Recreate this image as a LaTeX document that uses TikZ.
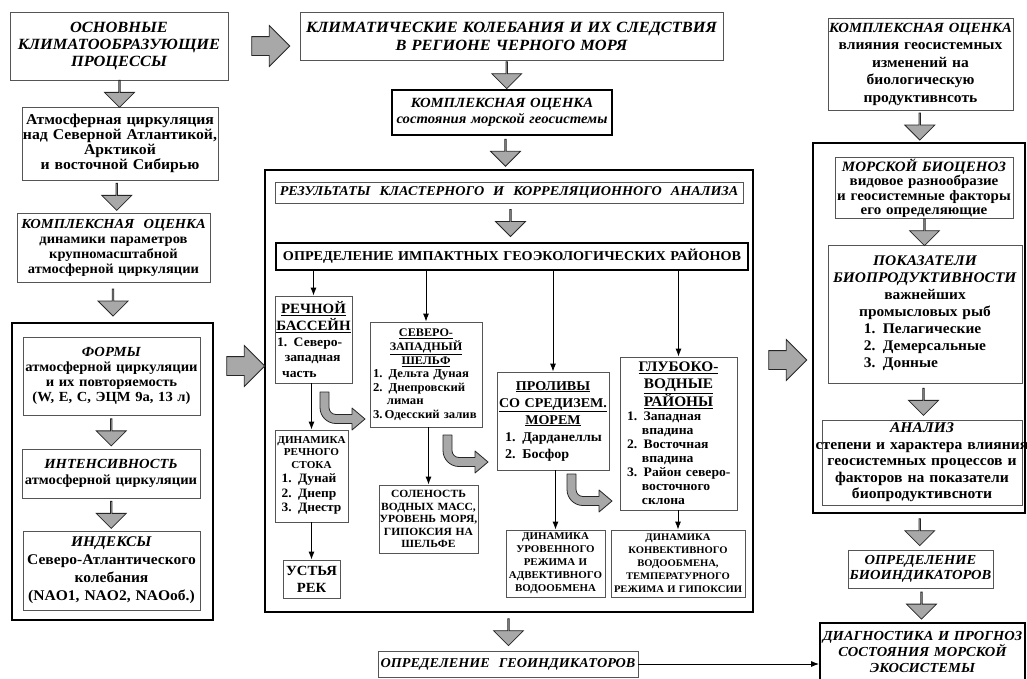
\documentclass[tikz,border=0pt]{standalone}
\usepackage{fontspec}
\setmainfont{Liberation Serif}[FakeStretch=1.05]
\usetikzlibrary{shapes.arrows, arrows.meta, calc}

\definecolor{arrowgray}{RGB}{168,168,168}
\definecolor{boxline}{RGB}{85,85,85}
\newcommand{\fs}[2]{\fontsize{#1}{#2}\selectfont}

\tikzset{
  box/.style={draw=boxline, line width=0.8pt, fill=white, inner ysep=1pt, align=center},
  heavy/.style={draw=black, line width=2pt},
  % box of given size; lines are never wrapped (wide text box, negative sep)
  sz/.code 2 args={\pgfmathsetmacro\bw{#1+40}%
    \edef\tmp{\noexpand\tikzset{minimum width=#1pt, minimum height=#2pt, text width=\bw pt, inner xsep=-20pt}}\tmp},
  fatdown/.style={single arrow, draw=black!85, fill=arrowgray, line width=0.8pt, shape border rotate=270,
    inner xsep=0pt, inner ysep=7pt, single arrow head extend=8pt, minimum width=30pt, minimum height=27pt},
  fatright/.style={single arrow, draw=black!85, fill=arrowgray, line width=0.8pt,
    inner xsep=0pt, inner ysep=9pt, single arrow head extend=11pt, minimum width=40pt, minimum height=38pt},
  thinarrow/.style={line width=0.9pt, -{Latex[length=8pt,width=6pt]}},
  bendarrow/.pic={\filldraw[fill=arrowgray, draw=black!85, line width=0.8pt, line join=round]
    (0,0) -- (0,-15.5) arc[start angle=180, end angle=270, radius=16] -- (32,-31.5) -- (32,-38)
    -- (45,-27) -- (32,-16) -- (32,-22.5) -- (16,-22.5) arc[start angle=270, end angle=180, radius=7]
    -- (9,0) -- cycle;},
}

\begin{document}
\begin{tikzpicture}[x=1pt, y=1pt]
\useasboundingbox (0,0) rectangle (1027,-678);

% left column
\node[box, sz={218}{68}, font=\bfseries\itshape\fs{15.6}{17}] (osn) at (119,-46)
  {ОСНОВНЫЕ\\КЛИМАТООБРАЗУЮЩИЕ\\ПРОЦЕССЫ};
\node[box, sz={196}{73}, font=\bfseries\fs{15}{15}] (atm) at (120,-143.5)
  {Атмосферная циркуляция\\над Северной Атлантикой,\\Арктикой\\и восточной Сибирью};
\node[box, sz={193}{69}, font=\bfseries\fs{13.8}{15}] (kom1) at (113.5,-247.5)
  {\textit{КОМПЛЕКСНАЯ\ \ ОЦЕНКА}\\динамики параметров\\крупномасштабной\\атмосферной циркуляции};
\node[box, heavy, sz={201}{297}] (lout) at (112.5,-471.5) {};
\node[box, sz={177}{78}, font=\bfseries\fs{13.9}{15}] (form) at (111.5,-376)
  {\textit{ФОРМЫ}\\атмосферной циркуляции\\и их повторяемость\\(W, E, C, ЭЦМ 9а, 13 л)};
\node[box, sz={178}{49}, font=\bfseries\fs{13.9}{16}] (int) at (111,-473.5)
  {\textit{ИНТЕНСИВНОСТЬ}\\атмосферной циркуляции};
\node[box, sz={177}{79}, font=\bfseries\fs{14.8}{18}] (ind) at (111.5,-570.5)
  {\textit{ИНДЕКСЫ}\\Северо-Атлантического\\колебания\\(NAO1, NAO2, NAOоб.)};

\node[fatdown] (d1) at ($(osn.south)!0.5!(atm.north)$) {};
\node[fatdown] (d2) at ($(atm.south)!0.5!(kom1.north)$) {};
\node[fatdown] (d3) at ($(kom1.south)!0.5!(lout.north)$) {};
\node[fatdown] (d4) at ($(form.south)!0.5!(int.north)$) {};
\node[fatdown] (d5) at ($(int.south)!0.5!(ind.north)$) {};

% top and centre
\node[box, sz={423}{48}, font=\bfseries\itshape\fs{15.6}{18}] (klim) at (511.5,-36)
  {КЛИМАТИЧЕСКИЕ КОЛЕБАНИЯ И ИХ СЛЕДСТВИЯ\\В РЕГИОНЕ ЧЕРНОГО МОРЯ};
\node[box, draw=black, line width=1.6pt, sz={220}{45}, font=\bfseries\itshape\fs{14}{16}] (kom2) at (502,-112.5)
  {КОМПЛЕКСНАЯ ОЦЕНКА\\состояния морской геосистемы};
\node[box, heavy, sz={488}{442}] (cen) at (509,-391) {};
\node[box, sz={468}{21}, font=\bfseries\itshape\fs{13.5}{14}] (res) at (509,-192.5)
  {РЕЗУЛЬТАТЫ\ \ КЛАСТЕРНОГО\ \ И\ \ КОРРЕЛЯЦИОННОГО\ \ АНАЛИЗА};
\node[box, draw=black, line width=2.2pt, sz={472}{27}, font=\bfseries\fs{13.5}{15}] (imp) at (512,-256.5)
  {ОПРЕДЕЛЕНИЕ ИМПАКТНЫХ ГЕОЭКОЛОГИЧЕСКИХ РАЙОНОВ};

\node[fatright] (r0) at (266,-46) {};
\node[fatdown] (d6) at ($(klim.south)!0.5!(kom2.north)$) {};
\node[fatdown] (d7) at ($(kom2.south)!0.5!(cen.north)$) {};
\node[fatdown] (d8) at ($(res.south)!0.5!(imp.north)$) {};

\node[box, sz={77}{87}, font=\bfseries\fs{13}{15.5}] (rech) at (313.5,-339.5)
  {{\fs{14.2}{17}\underline{РЕЧНОЙ}\\\underline{БАССЕЙН}\par}\raggedright\leftskip=22pt
   1. Северо-\\\hspace*{.6em}западная\\\hspace*{.4em}часть\par};
\node[box, sz={112}{105}, font=\bfseries\fs{12.1}{13.5}] (sev) at (426,-374.5)
  {{\fs{11.6}{14}\underline{СЕВЕРО-}\\\underline{ЗАПАДНЫЙ}\\\underline{ШЕЛЬФ}\par}\raggedright\leftskip=23pt
   1. Дельта Дуная\\2. Днепровский\\\hspace*{1.15em}лиман\\3.\,Одесский залив\par};
\node[box, sz={73}{92}, font=\bfseries\fs{12.8}{14.5}] (dinr) at (311.5,-476)
  {{\fs{10.6}{12.5}ДИНАМИКА\\РЕЧНОГО\\СТОКА\par}\begin{tabular}[t]{@{}l@{}}1. Дунай\\2. Днепр\\3. Днестр\end{tabular}};
\node[box, sz={57}{38}, font=\bfseries\fs{14}{17}] (ust) at (311.5,-579) {УСТЬЯ\\РЕК};
\node[box, sz={99}{68}, font=\bfseries\fs{11}{12.5}] (sol) at (428.5,-519)
  {СОЛЕНОСТЬ\\ВОДНЫХ МАСС,\\УРОВЕНЬ МОРЯ,\\ГИПОКСИЯ НА\\ШЕЛЬФЕ};
\node[box, sz={112}{98}, font=\bfseries\fs{13.4}{17}] (prol) at (553,-421)
  {{\underline{ПРОЛИВЫ}\\\underline{СО СРЕДИЗЕМ.}\\\underline{МОРЕМ}\par}\raggedright\leftskip=28pt
   1. Дарданеллы\\2. Босфор\par};
\node[box, sz={117}{153}, font=\bfseries\fs{13}{14}] (glub) at (678.5,-433.5)
  {{\fs{14.6}{16.5}\underline{ГЛУБОКО-}\\\underline{ВОДНЫЕ}\\\underline{РАЙОНЫ}\par}\raggedright\leftskip=27pt
   1. Западная\\\hspace*{1.15em}впадина\\2. Восточная\\\hspace*{1.15em}впадина\\3. Район северо-\\\hspace*{1.15em}восточного\\\hspace*{1.15em}склона\par};
\node[box, sz={99}{67}, font=\bfseries\fs{10.4}{13}] (dinu) at (555.5,-563.5)
  {ДИНАМИКА\\УРОВЕННОГО\\РЕЖИМА И\\АДВЕКТИВНОГО\\ВОДООБМЕНА};
\node[box, sz={134}{67}, font=\bfseries\fs{10.1}{13}] (dink) at (678,-563.5)
  {ДИНАМИКА\\КОНВЕКТИВНОГО\\ВОДООБМЕНА,\\ТЕМПЕРАТУРНОГО\\РЕЖИМА И ГИПОКСИИ};

\draw[thinarrow] (rech.north |- imp.south) -- (rech.north);
\draw[thinarrow] (sev.north |- imp.south) -- (sev.north);
\draw[thinarrow] (prol.north |- imp.south) -- (prol.north);
\draw[thinarrow] (glub.north |- imp.south) -- (glub.north);
\draw[thinarrow] (dinr.north |- rech.south) -- (dinr.north);
\draw[thinarrow] (dinr.south) -- (ust.north);
\draw[thinarrow] (sol.north |- sev.south) -- (sol.north);
\draw[thinarrow] (dinu.north |- prol.south) -- (dinu.north);
\draw[thinarrow] (dink.north |- glub.south) -- (dink.north);

\pic at (320,-392) {bendarrow};
\pic at (443,-435) {bendarrow};
\pic at (567,-474) {bendarrow};

\node[fatright] (r1) at (241,-366) {};
\node[fatright] (r2) at (783,-360) {};

% bottom
\node[box, sz={260}{26}, font=\bfseries\itshape\fs{13.5}{15}] (geo) at (508,-664)
  {ОПРЕДЕЛЕНИЕ\ \ ГЕОИНДИКАТОРОВ};
\node[fatdown] (d9) at ($(cen.south)!0.5!(geo.north)$) {};

% right column
\node[box, sz={185}{92}, font=\bfseries\fs{14.8}{17.5}] (kom3) at (920.5,-64)
  {{\itshape\fs{14}{17.5}КОМПЛЕКСНАЯ ОЦЕНКА\par}влияния геосистемных\\изменений на\\биологическую\\продуктивнсоть};
\node[box, heavy, sz={212}{370}] (rout) at (919,-328) {};
\node[box, sz={178}{60}, font=\bfseries\fs{14.3}{14.5}] (bio) at (924,-188)
  {\textit{МОРСКОЙ БИОЦЕНОЗ}\\видовое разнообразие\\и геосистемные факторы\\его определяющие};
\node[box, sz={194}{138}, font=\bfseries\fs{14.7}{17}] (pok) at (925,-314)
  {\textit{ПОКАЗАТЕЛИ\\БИОПРОДУКТИВНОСТИ}\\важнейших\\промысловых рыб\\
   \begin{tabular}[t]{@{}l@{}}1. Пелагические\\2. Демерсальные\\3. Донные\end{tabular}};
\node[box, sz={200}{85}, font=\bfseries\fs{14.9}{16.5}] (anl) at (922,-462.5)
  {\textit{АНАЛИЗ}\\степени и характера влияния\\геосистемных процессов и\\факторов на показатели\\биопродуктивсноти};
\node[box, sz={145}{38}, font=\bfseries\itshape\fs{13.8}{15}] (bind) at (920.5,-569)
  {ОПРЕДЕЛЕНИЕ\\БИОИНДИКАТОРОВ};
\node[box, draw=black, line width=1.8pt, sz={205}{58}, font=\bfseries\itshape\fs{13.8}{16}] (diag) at (922.5,-652)
  {ДИАГНОСТИКА И ПРОГНОЗ\\СОСТОЯНИЯ МОРСКОЙ\\ЭКОСИСТЕМЫ};

\node[fatdown] (d10) at ($(kom3.south)!0.5!(rout.north)$) {};
\node[fatdown] (d11) at ($(bio.south)!0.5!(pok.north)$) {};
\node[fatdown] (d12) at ($(pok.south)!0.5!(anl.north)$) {};
\node[fatdown] (d13) at ($(rout.south)!0.5!(bind.north)$) {};
\node[fatdown] (d14) at ($(bind.south)!0.5!(diag.north)$) {};

\draw[thinarrow] (geo.east) -- (geo.east -| diag.west);
\end{tikzpicture}
\end{document}
